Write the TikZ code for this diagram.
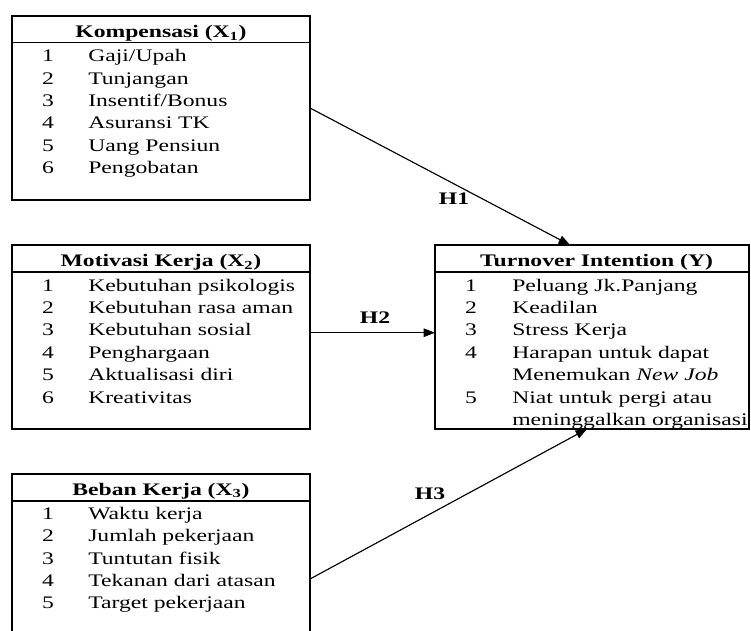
\documentclass[tikz,border=0pt]{standalone}
\usepackage{fontspec}
\setmainfont{Liberation Serif}[FakeStretch=1.34]
\usetikzlibrary{arrows.meta}

\begin{document}
\begin{tikzpicture}[x=0.7pt, y=-0.7pt,
		box/.style={draw, line width=0.9pt, inner sep=0pt, outer sep=0pt, minimum width=208.6pt, minimum height=128.8pt},
		txt/.style={font=\fontsize{12.35pt}{14pt}\selectfont, inner sep=0pt, anchor=base west},
		num/.style={font=\fontsize{12.35pt}{14pt}\selectfont, inner sep=0pt, anchor=base},
		ttl/.style={font=\fontsize{12.35pt}{14pt}\selectfont\bfseries, inner sep=0pt, anchor=base},
		hyp/.style={font=\fontsize{12.35pt}{14pt}\selectfont\bfseries, inner sep=0pt},
		arr/.style={line width=0.8pt, -{Triangle[length=8pt, width=6pt]}}]
		%%%%% START %%%%%
		
		\useasboundingbox (0, 0) rectangle (751, 630);
		\clip (0, 0) rectangle (751, 630);
		
		% Kompensasi
		\node[box] (x1) at (161, 108) {};
		\draw[line width=0.9pt] ([yshift=-18.6pt]x1.north west) -- ([yshift=-18.6pt]x1.north east);
		\node[ttl] (x1t) at (161, 37.7) {Kompensasi (X\textsubscript{1})};
		\node[num] (x1n1) at (48, 61.7) {1};
		\node[txt] (x1a) at (88, 61.7) {Gaji/Upah};
		\node[num] (x1n2) at (48, 84.1) {2};
		\node[txt] (x1b) at (88, 84.1) {Tunjangan};
		\node[num] (x1n3) at (48, 106.5) {3};
		\node[txt] (x1c) at (88, 106.5) {Insentif/Bonus};
		\node[num] (x1n4) at (48, 128.9) {4};
		\node[txt] (x1d) at (88, 128.9) {Asuransi TK};
		\node[num] (x1n5) at (48, 151.3) {5};
		\node[txt] (x1e) at (88, 151.3) {Uang Pensiun};
		\node[num] (x1n6) at (48, 173.7) {6};
		\node[txt] (x1f) at (88, 173.7) {Pengobatan};
		
		% Motivasi Kerja
		\node[box] (x2) at (161, 337) {};
		\draw[line width=0.9pt] ([yshift=-18.9pt]x2.north west) -- ([yshift=-18.9pt]x2.north east);
		\node[ttl] (x2t) at (161, 266.7) {Motivasi Kerja (X\textsubscript{2})};
		\node[num] (x2n1) at (48, 291) {1};
		\node[txt] (x2a) at (88, 291) {Kebutuhan psikologis};
		\node[num] (x2n2) at (48, 313.4) {2};
		\node[txt] (x2b) at (88, 313.4) {Kebutuhan rasa aman};
		\node[num] (x2n3) at (48, 335.8) {3};
		\node[txt] (x2c) at (88, 335.8) {Kebutuhan sosial};
		\node[num] (x2n4) at (48, 358.2) {4};
		\node[txt] (x2d) at (88, 358.2) {Penghargaan};
		\node[num] (x2n5) at (48, 380.6) {5};
		\node[txt] (x2e) at (88, 380.6) {Aktualisasi diri};
		\node[num] (x2n6) at (48, 403) {6};
		\node[txt] (x2f) at (88, 403) {Kreativitas};
		
		% Beban Kerja
		\node[box, minimum height=147pt] (x3) at (161, 579) {};
		\draw[line width=0.9pt] ([yshift=-18.9pt]x3.north west) -- ([yshift=-18.9pt]x3.north east);
		\node[ttl] (x3t) at (161, 495) {Beban Kerja (X\textsubscript{3})};
		\node[num] (x3n1) at (48, 519.3) {1};
		\node[txt] (x3a) at (88, 519.3) {Waktu kerja};
		\node[num] (x3n2) at (48, 541.7) {2};
		\node[txt] (x3b) at (88, 541.7) {Jumlah pekerjaan};
		\node[num] (x3n3) at (48, 564.1) {3};
		\node[txt] (x3c) at (88, 564.1) {Tuntutan fisik};
		\node[num] (x3n4) at (48, 586.5) {4};
		\node[txt] (x3d) at (88, 586.5) {Tekanan dari atasan};
		\node[num] (x3n5) at (48, 608.9) {5};
		\node[txt] (x3e) at (88, 608.9) {Target pekerjaan};
		
		% Turnover Intention
		\node[box, minimum width=219.8pt] (tov) at (592, 337) {};
		\draw[line width=0.9pt] ([yshift=-18.9pt]tov.north west) -- ([yshift=-18.9pt]tov.north east);
		\node[ttl] (tovt) at (596.5, 266.7) {Turnover Intention (Y)};
		\node[num] (tn1) at (471, 291) {1};
		\node[txt] (ta) at (512, 291) {Peluang Jk.Panjang};
		\node[num] (tn2) at (471, 313.4) {2};
		\node[txt] (tb) at (512, 313.4) {Keadilan};
		\node[num] (tn3) at (471, 335.8) {3};
		\node[txt] (tc) at (512, 335.8) {Stress Kerja};
		\node[num] (tn4) at (471, 358.2) {4};
		\node[txt] (td) at (512, 358.2) {Harapan untuk dapat};
		\node[txt] (td2) at (512, 380.6) {Menemukan \textit{New Job}};
		\node[num] (tn5) at (471, 403) {5};
		\node[txt] (te) at (512, 403) {Niat untuk pergi atau};
		\node[txt] (te2) at (512, 425.4) {meninggalkan organisasi};
		
		% hipotesis
		\draw[arr] (x1.east) -- ([xshift=-15.4pt]tov.north);
		\draw[arr] ([yshift=3pt]x2.east) -- ([yshift=3pt]x2.east -| tov.west);
		\draw[arr] (x3.east) -- ([xshift=-3.5pt]tov.south);
		\node[hyp] (h1) at (454, 199) {H1};
		\node[hyp] (h2) at (375, 317.5) {H2};
		\node[hyp] (h3) at (430, 494) {H3};
		
		%%%%% END %%%%%
	\end{tikzpicture}
\end{document}
